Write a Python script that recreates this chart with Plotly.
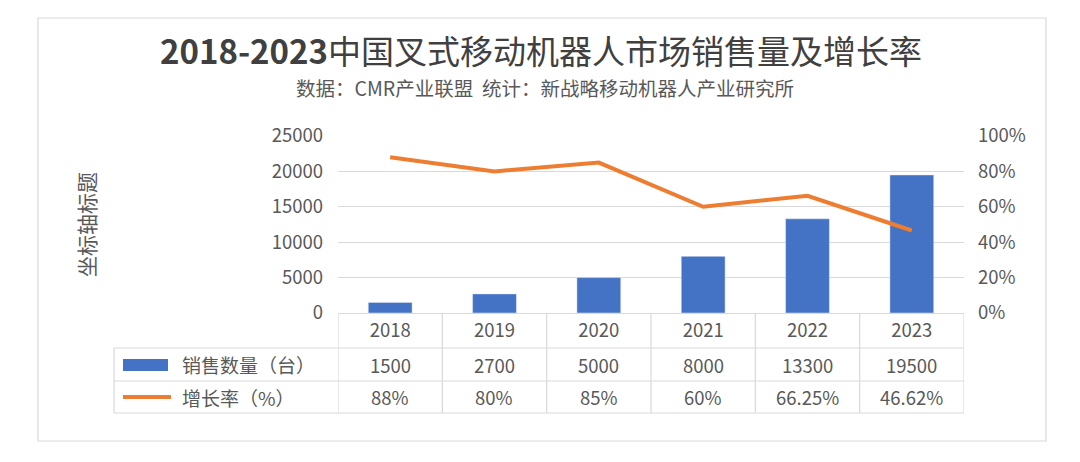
import plotly.graph_objects as go

# ---- data ----
years = ["2018", "2019", "2020", "2021", "2022", "2023"]
sales = [1500, 2700, 5000, 8000, 13300, 19500]
growth = [0.88, 0.80, 0.85, 0.60, 0.6625, 0.4662]
growth_labels = ["88%", "80%", "85%", "60%", "66.25%", "46.62%"]
sales_name = "销售数量（台）"
growth_name = "增长率（%）"
title = "<b>2018-2023</b>中国叉式移动机器人市场销售量及增长率"
subtitle = "数据：CMR产业联盟  统计：新战略移动机器人产业研究所"
y_title = "坐标轴标题"

OFF = 8  # page body margin
W, H = 1080 - OFF, 462 - OFF
FONT = "Noto Sans CJK SC"
GREY = "#595959"
GRID = "#D9D9D9"
BLUE = "#4472C4"
ORANGE = "#ED7D31"


def px(x):
    return (x - OFF) / W


def py(y):
    return 1 - (y - OFF) / H


PLOT_L, PLOT_R, PLOT_T, PLOT_B = 338, 964, 136, 313
ROW1, ROW2, ROW3 = 348, 381, 413
TABLE_L = 114

xi = list(range(len(years)))

fig = go.Figure()
fig.add_trace(go.Bar(x=xi, y=sales, name=sales_name, marker_color=BLUE,
                     yaxis="y", showlegend=False))
fig.add_trace(go.Scatter(x=xi, y=growth, name=growth_name, mode="lines",
                         line=dict(color=ORANGE, width=4), yaxis="y2",
                         showlegend=False))

shapes = []
# outer border
shapes.append(dict(type="rect", xref="paper", yref="paper",
                   x0=px(38), x1=px(1046), y0=py(18), y1=py(441),
                   line=dict(color=GRID, width=1.2), fillcolor="rgba(0,0,0,0)"))
# table horizontal lines
for yy in (ROW1, ROW2, ROW3):
    shapes.append(dict(type="line", xref="paper", yref="paper",
                       x0=px(TABLE_L), x1=px(PLOT_R), y0=py(yy), y1=py(yy),
                       line=dict(color=GRID, width=1.2)))
# left table border
shapes.append(dict(type="line", xref="paper", yref="paper",
                   x0=px(TABLE_L), x1=px(TABLE_L), y0=py(ROW1), y1=py(ROW3),
                   line=dict(color=GRID, width=1.2)))
# vertical category boundaries in table
for i in range(len(years) + 1):
    shapes.append(dict(type="line", xref="x", yref="paper",
                       x0=i - 0.5, x1=i - 0.5, y0=py(PLOT_B), y1=py(ROW3),
                       line=dict(color=GRID, width=1.2)))
# legend keys
shapes.append(dict(type="rect", xref="paper", yref="paper",
                   x0=px(123), x1=px(168), y0=py(359), y1=py(371),
                   line=dict(width=0), fillcolor=BLUE))
shapes.append(dict(type="line", xref="paper", yref="paper",
                   x0=px(123), x1=px(171), y0=py(397), y1=py(397),
                   line=dict(color=ORANGE, width=4)))

annotations = []
annotations.append(dict(text=title, xref="paper", yref="paper", x=px(541), y=py(50),
                        showarrow=False, font=dict(family=FONT, size=33, color="#404040"),
                        xanchor="center", yanchor="middle"))
annotations.append(dict(text=subtitle, xref="paper", yref="paper", x=px(545), y=py(87),
                        showarrow=False, font=dict(family=FONT, size=19.5, color=GREY),
                        xanchor="center", yanchor="middle"))
annotations.append(dict(text=y_title, xref="paper", yref="paper", x=px(86), y=py(225),
                        showarrow=False, textangle=-90,
                        font=dict(family=FONT, size=21, color=GREY),
                        xanchor="center", yanchor="middle"))
annotations.append(dict(text=sales_name, xref="paper", yref="paper", x=px(180),
                        y=py((ROW1 + ROW2) / 2), showarrow=False,
                        font=dict(family=FONT, size=19, color=GREY),
                        xanchor="left", yanchor="middle"))
annotations.append(dict(text=growth_name, xref="paper", yref="paper", x=px(180),
                        y=py((ROW2 + ROW3) / 2), showarrow=False,
                        font=dict(family=FONT, size=19, color=GREY),
                        xanchor="left", yanchor="middle"))
for i, s, g in zip(xi, sales, growth_labels):
    annotations.append(dict(text=str(s), xref="x", yref="paper", x=i,
                            y=py((ROW1 + ROW2) / 2), showarrow=False,
                            font=dict(family=FONT, size=18.5, color=GREY),
                            xanchor="center", yanchor="middle"))
    annotations.append(dict(text=g, xref="x", yref="paper", x=i,
                            y=py((ROW2 + ROW3) / 2), showarrow=False,
                            font=dict(family=FONT, size=18.5, color=GREY),
                            xanchor="center", yanchor="middle"))

fig.update_layout(
    width=W, height=H,
    margin=dict(l=0, r=0, t=0, b=0),
    paper_bgcolor="white", plot_bgcolor="white",
    bargap=0.58,
    font=dict(family=FONT, color=GREY, size=18),
    xaxis=dict(domain=[px(PLOT_L), px(PLOT_R)], range=[-0.5, len(years) - 0.5],
               tickvals=xi, ticktext=years, automargin=False,
               showgrid=False, zeroline=False, showline=False,
               ticks="", ticklabelstandoff=4,
               tickfont=dict(family=FONT, size=18.5, color=GREY)),
    yaxis=dict(domain=[py(PLOT_B), py(PLOT_T)], range=[0, 25000], dtick=5000,
               tickformat="d", automargin=False,
               showgrid=True, gridcolor=GRID, gridwidth=1.2, zeroline=True,
               zerolinecolor=GRID, zerolinewidth=1.2,
               showline=False, ticks="", ticklabelstandoff=14,
               tickfont=dict(family=FONT, size=18.5, color=GREY)),
    yaxis2=dict(overlaying="y", side="right", range=[0, 1], dtick=0.2,
                tickformat=".0%", automargin=False, showgrid=False, zeroline=False,
                showline=False, ticks="", ticklabelstandoff=13,
                tickfont=dict(family=FONT, size=18.5, color=GREY)),
    shapes=shapes,
    annotations=annotations,
)

fig.write_html("out.html")
